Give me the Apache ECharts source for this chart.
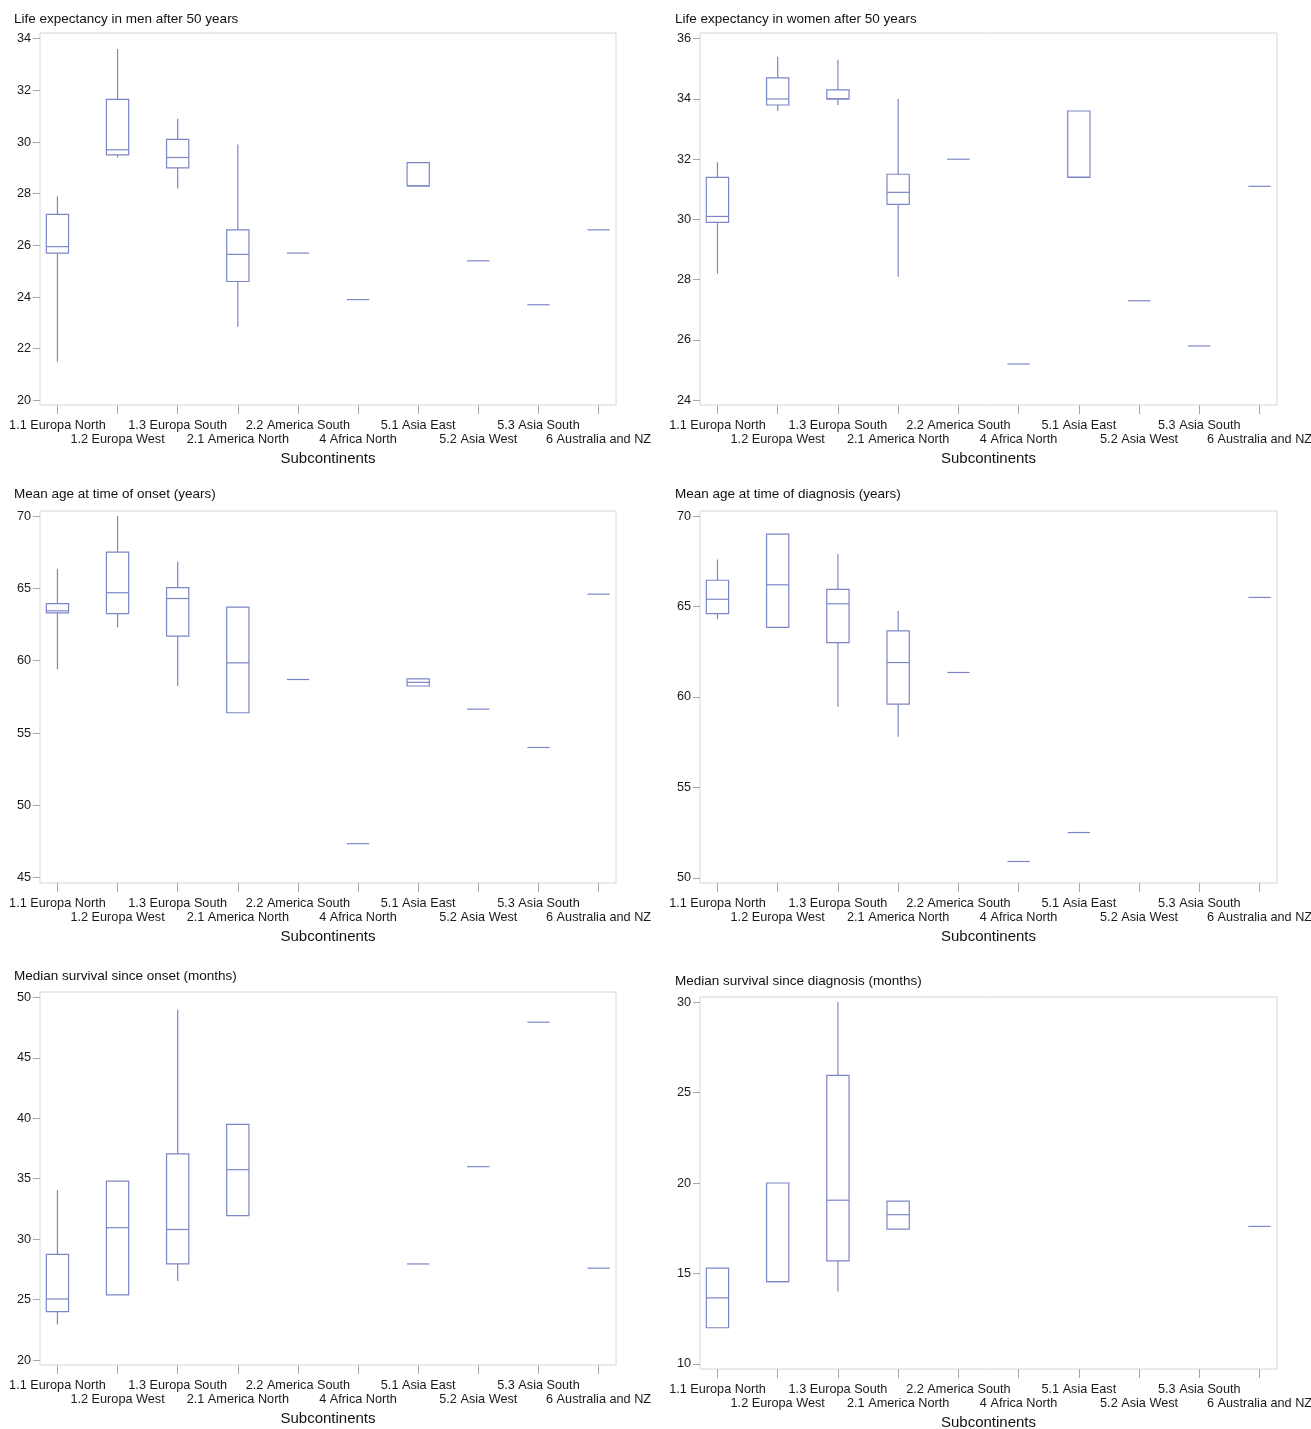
<!DOCTYPE html>
<html>
<head>
<meta charset="utf-8">
<script src="https://cdn.jsdelivr.net/npm/echarts@6/dist/echarts.min.js"></script>
<style>
html,body{margin:0;padding:0;background:#fff;}
#chart{width:1311px;height:1429px;}
</style>
</head>
<body>
<div id="chart"></div>
<script>
// ---- categories ----
const categories = ['1.1 Europa North','1.2 Europa West','1.3 Europa South','2.1 America North','2.2 America South','4 Africa North','5.1 Asia East','5.2 Asia West','5.3 Asia South','6 Australia and NZ'];

// ---- box statistics per category: [low, q1, median, q3, high] (null = no data) ----
const menLife = [
  [21.5, 25.7, 25.95, 27.2, 27.9],
  [29.4, 29.5, 29.7, 31.65, 33.6],
  [28.2, 29.0, 29.4, 30.1, 30.9],
  [22.85, 24.6, 25.65, 26.6, 29.9],
  [25.7, 25.7, 25.7, 25.7, 25.7],
  [23.9, 23.9, 23.9, 23.9, 23.9],
  [28.3, 28.3, 28.3, 29.2, 29.2],
  [25.4, 25.4, 25.4, 25.4, 25.4],
  [23.7, 23.7, 23.7, 23.7, 23.7],
  [26.6, 26.6, 26.6, 26.6, 26.6]
];
const womenLife = [
  [28.2, 29.9, 30.1, 31.4, 31.9],
  [33.6, 33.8, 34.0, 34.7, 35.4],
  [33.8, 34.0, 34.0, 34.3, 35.3],
  [28.1, 30.5, 30.9, 31.5, 34.0],
  [32.0, 32.0, 32.0, 32.0, 32.0],
  [25.2, 25.2, 25.2, 25.2, 25.2],
  [31.4, 31.4, 31.4, 33.6, 33.6],
  [27.3, 27.3, 27.3, 27.3, 27.3],
  [25.8, 25.8, 25.8, 25.8, 25.8],
  [31.1, 31.1, 31.1, 31.1, 31.1]
];
const onsetAge = [
  [59.4, 63.3, 63.45, 63.95, 66.35],
  [62.3, 63.25, 64.7, 67.5, 70.0],
  [58.25, 61.7, 64.3, 65.05, 66.85],
  [56.4, 56.4, 59.85, 63.7, 63.7],
  [58.7, 58.7, 58.7, 58.7, 58.7],
  [47.35, 47.35, 47.35, 47.35, 47.35],
  [58.25, 58.25, 58.5, 58.75, 58.75],
  [56.65, 56.65, 56.65, 56.65, 56.65],
  [54.0, 54.0, 54.0, 54.0, 54.0],
  [64.6, 64.6, 64.6, 64.6, 64.6]
];
const diagnosisAge = [
  [64.3, 64.6, 65.4, 66.45, 67.6],
  [63.85, 63.85, 66.2, 69.0, 69.0],
  [59.45, 63.0, 65.15, 65.95, 67.9],
  [57.8, 59.6, 61.9, 63.65, 64.75],
  [61.35, 61.35, 61.35, 61.35, 61.35],
  [50.9, 50.9, 50.9, 50.9, 50.9],
  [52.5, 52.5, 52.5, 52.5, 52.5],
  null,
  null,
  [65.5, 65.5, 65.5, 65.5, 65.5]
];
const onsetSurvival = [
  [22.95, 24.0, 25.05, 28.75, 34.05],
  [25.4, 25.4, 30.95, 34.8, 34.8],
  [26.55, 27.95, 30.8, 37.05, 49.0],
  [31.95, 31.95, 35.75, 39.5, 39.5],
  null,
  null,
  [27.95, 27.95, 27.95, 27.95, 27.95],
  [36.0, 36.0, 36.0, 36.0, 36.0],
  [47.95, 47.95, 47.95, 47.95, 47.95],
  [27.6, 27.6, 27.6, 27.6, 27.6]
];
const diagnosisSurvival = [
  [12.0, 12.0, 13.65, 15.3, 15.3],
  [14.55, 14.55, 14.55, 20.0, 20.0],
  [14.0, 15.7, 19.05, 25.95, 30.0],
  [17.45, 17.45, 18.25, 19.0, 19.0],
  null,
  null,
  null,
  null,
  null,
  [17.6, 17.6, 17.6, 17.6, 17.6]
];

// ---- titles and tick labels ----
const titles = ['Life expectancy in men after 50 years','Life expectancy in women after 50 years','Mean age at time of onset (years)','Mean age at time of diagnosis (years)','Median survival since onset (months)','Median survival since diagnosis (months)'];
const yTicks1 = [20,22,24,26,28,30,32,34];
const yTicks2 = [24,26,28,30,32,34,36];
const yTicks3 = [45,50,55,60,65,70];
const yTicks4 = [50,55,60,65,70];
const yTicks5 = [20,25,30,35,40,45,50];
const yTicks6 = [10,15,20,25,30];
const xAxisName = 'Subcontinents';

// ---- layout ----
const FONT = '"Liberation Sans", Arial, sans-serif';
const BOX_COLOR = '#7c86c7';
const TICK_COLOR = '#a8a8a8';
const LABEL_COLOR = '#1a1a1a';
const panels = [
  {data: menLife,          ticks: yTicks1, min: 19.82, max: 34.22, grid: {left: 40,  top: 33,  width: 576, height: 372}, title: {left: 14,  top: 12}},
  {data: womenLife,        ticks: yTicks2, min: 23.84, max: 36.19, grid: {left: 700, top: 33,  width: 577, height: 372}, title: {left: 675, top: 12}},
  {data: onsetAge,         ticks: yTicks3, min: 44.63, max: 70.35, grid: {left: 40,  top: 511, width: 576, height: 372}, title: {left: 14,  top: 487}},
  {data: diagnosisAge,     ticks: yTicks4, min: 49.71, max: 70.28, grid: {left: 700, top: 511, width: 577, height: 372}, title: {left: 675, top: 487}},
  {data: onsetSurvival,    ticks: yTicks5, min: 19.59, max: 50.45, grid: {left: 40,  top: 992, width: 576, height: 373}, title: {left: 14,  top: 969}},
  {data: diagnosisSurvival,ticks: yTicks6, min: 9.72,  max: 30.28, grid: {left: 700, top: 997, width: 577, height: 372}, title: {left: 675, top: 974}}
];
const catIdx = categories.map((c, i) => i);
const evenIdx = catIdx.filter(i => i % 2 === 0);
const oddIdx = catIdx.filter(i => i % 2 === 1);
const catLabel = v => categories[Math.round(v)];

function renderBox(params, api) {
  const x = api.value(0);
  const lo = api.value(1), q1 = api.value(2), md = api.value(3), q3 = api.value(4), hi = api.value(5);
  const half = api.size([1, 0])[0] * 0.185;
  const pLo = api.coord([x, lo]), pQ1 = api.coord([x, q1]), pMd = api.coord([x, md]);
  const pQ3 = api.coord([x, q3]), pHi = api.coord([x, hi]);
  const cx = pMd[0];
  const style = {stroke: BOX_COLOR, lineWidth: 1.2, fill: null};
  const children = [];
  if (hi > q3) children.push({type: 'line', shape: {x1: cx, y1: pHi[1], x2: cx, y2: pQ3[1]}, style});
  if (lo < q1) children.push({type: 'line', shape: {x1: cx, y1: pQ1[1], x2: cx, y2: pLo[1]}, style});
  if (q3 > q1) children.push({type: 'rect', shape: {x: cx - half, y: pQ3[1], width: 2 * half, height: pQ1[1] - pQ3[1]}, style});
  children.push({type: 'line', shape: {x1: cx - half, y1: pMd[1], x2: cx + half, y2: pMd[1]}, style});
  return {type: 'group', children};
}

const xAxes = [];
panels.forEach((p, i) => {
  // primary axis: ticks at every category, first row of labels, axis name
  xAxes.push({
    type: 'value', gridIndex: i, position: 'bottom', min: -0.29, max: 9.29,
    axisLine: {show: false, onZero: false},
    splitLine: {show: false},
    axisTick: {show: true, customValues: catIdx, length: 9, lineStyle: {color: TICK_COLOR, width: 1}},
    axisLabel: {customValues: evenIdx, showMinLabel: true, showMaxLabel: true, hideOverlap: false,
      margin: 14, fontSize: 12.7, color: LABEL_COLOR, fontFamily: FONT, formatter: catLabel},
    name: xAxisName, nameLocation: 'middle', nameGap: 46,
    nameTextStyle: {fontSize: 15, color: '#111', fontFamily: FONT}
  });
  // secondary axis: second row of labels
  xAxes.push({
    type: 'value', gridIndex: i, position: 'bottom', offset: 0, min: -0.29, max: 9.29,
    axisLine: {show: false, onZero: false},
    splitLine: {show: false},
    axisTick: {show: false},
    axisLabel: {customValues: oddIdx, showMinLabel: true, showMaxLabel: true, hideOverlap: false,
      margin: 27.5, fontSize: 12.7, color: LABEL_COLOR, fontFamily: FONT, formatter: catLabel}
  });
});

const option = {
  backgroundColor: '#fff',
  animation: false,
  textStyle: {fontFamily: FONT},
  title: panels.map((p, i) => ({
    text: titles[i], left: p.title.left, top: p.title.top, padding: 0,
    textStyle: {fontFamily: FONT, fontSize: 13.5, fontWeight: 'normal', color: '#111'}
  })),
  grid: panels.map(p => Object.assign({show: true, borderColor: '#d6d6d6', borderWidth: 1, backgroundColor: 'transparent', containLabel: false, outerBoundsMode: 'none'}, p.grid)),
  xAxis: xAxes,
  yAxis: panels.map((p, i) => ({
    type: 'value', gridIndex: i, min: p.min, max: p.max,
    axisLine: {show: false, onZero: false},
    splitLine: {show: false},
    axisTick: {show: true, customValues: p.ticks, length: 7, lineStyle: {color: TICK_COLOR, width: 1}},
    axisLabel: {customValues: p.ticks, margin: 9, fontSize: 12.7, color: LABEL_COLOR, fontFamily: FONT}
  })),
  series: panels.map((p, i) => ({
    type: 'custom', xAxisIndex: 2 * i, yAxisIndex: i,
    renderItem: renderBox,
    encode: {x: 0, y: [1, 2, 3, 4, 5]},
    data: p.data.map((d, k) => d ? [k].concat(d) : null).filter(Boolean)
  }))
};

const chart = echarts.init(document.getElementById('chart'), null, {renderer: 'canvas'});
chart.setOption(option);
</script>
</body>
</html>
